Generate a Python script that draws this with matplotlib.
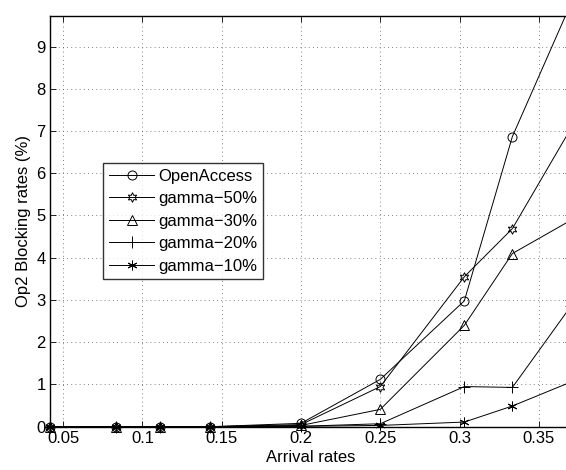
import numpy as np
import matplotlib
matplotlib.use('Agg')
from matplotlib import pyplot as plt
from matplotlib.lines import Line2D

# arrival rates and Op2 blocking rates (%)
arrival = [1/24, 1/12, 1/9, 1/7, 1/5, 1/4, 1/3.3, 1/3, 1/2.7]
open_access = [0, 0, 0, 0, 0.08, 1.12, 2.98, 6.87, 10.03]
gamma50 = [0, 0, 0, 0, 0.05, 0.95, 3.55, 4.69, 7.07]
gamma30 = [0, 0, 0, 0, 0.03, 0.41, 2.40, 4.10, 4.89]
gamma20 = [0, 0, 0, 0, 0.01, 0.07, 0.95, 0.93, 2.86]
gamma10 = [0, 0, 0, 0, 0.01, 0.03, 0.11, 0.49, 1.06]

labels = ['OpenAccess', 'gamma\u221250%', 'gamma\u221230%', 'gamma\u221220%', 'gamma\u221210%']
xticks = [0.05, 0.1, 0.15, 0.2, 0.25, 0.3, 0.35]
yticks = list(range(10))

plt.rcParams['font.family'] = ['Liberation Sans', 'DejaVu Sans']
fs = 12

fig = plt.figure(figsize=(5.66, 4.70), dpi=100)
# axes runs a few pixels past the right edge (reference is cropped there)
ax = fig.add_axes([50/566, 43.3/470, 521/566, 411/470])

markers = ['o', (6, 1, 0), '^', '+', (6, 2, 0)]
sizes = [6.5, 7, 7, 8, 7]
series = [open_access, gamma50, gamma30, gamma20, gamma10]
handles = []
for ys, m, s, lab in zip(series, markers, sizes, labels):
    # lines clipped to the axes, markers allowed to spill over the spines
    ax.plot(arrival, ys, color='k', lw=0.7)
    ax.plot(arrival, ys, ls='none', marker=m, ms=s, mfc='none', mec='k',
            mew=0.7, clip_on=False)
    handles.append(Line2D([], [], color='k', lw=0.7, marker=m, ms=s,
                          mfc='none', mec='k', mew=0.7, label=lab))

ax.set_xlim(1/24, 0.3703)
ax.set_ylim(0, 9.73)
ax.set_xticks(xticks)
ax.set_xticklabels(['0.05', '0.1', '0.15', '0.2', '0.25', '0.3', '0.35'])
ax.set_yticks(yticks)
ax.tick_params(direction='in', top=True, right=True, length=4, labelsize=fs,
               width=0.6, pad=3)
ax.grid(True, color='0.35', linestyle=(0, (1, 4)), lw=0.6)
for sp in ax.spines.values():
    sp.set_linewidth(1.0)

ax.set_xlabel('Arrival rates', fontsize=fs, labelpad=3)
ax.set_ylabel('Op2 Blocking rates (%)', fontsize=fs, labelpad=4)

leg = ax.legend(handles=handles, loc='upper left',
                bbox_to_anchor=(103.3/566, 1 - 162.7/470),
                bbox_transform=fig.transFigure, fontsize=fs, frameon=True,
                fancybox=False, edgecolor='k', handlelength=2.7,
                handletextpad=0.25, labelspacing=0.45, borderpad=0.35,
                borderaxespad=0)
leg.get_frame().set_linewidth(1.0)

fig.savefig('out.png', dpi=100)
